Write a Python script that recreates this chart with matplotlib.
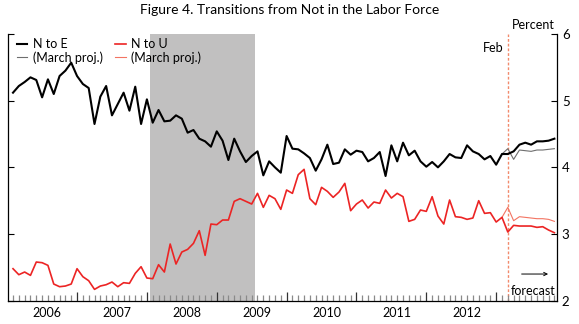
import matplotlib
matplotlib.use("Agg")
import matplotlib.pyplot as plt
import numpy as np
from matplotlib import transforms

# SETUP #########################################

plt.rcParams.update({
    "font.family": ["Lato", "DejaVu Sans"],
    "font.size": 9,
})

# DATA ##########################################

# monthly rates, Jan 2006 onward (last 8 months are the forecast)
n_to_e = [
    5.12, 5.22, 5.28, 5.35, 5.31, 5.05, 5.32, 5.10, 5.37, 5.45, 5.57, 5.37,
    5.25, 5.19, 4.65, 5.06, 5.22, 4.78, 4.95, 5.12, 4.85, 5.21, 4.65, 5.02,
    4.67, 4.86, 4.69, 4.70, 4.78, 4.73, 4.52, 4.56, 4.43, 4.39, 4.31, 4.54,
    4.40, 4.11, 4.43, 4.24, 4.08, 4.17, 4.24, 3.88, 4.09, 4.00, 3.92, 4.47,
    4.28, 4.27, 4.21, 4.14, 3.95, 4.12, 4.34, 4.05, 4.07, 4.27, 4.19, 4.25,
    4.23, 4.09, 4.14, 4.23, 3.87, 4.33, 4.09, 4.37, 4.18, 4.25, 4.09, 4.01,
    4.08, 4.00, 4.09, 4.20, 4.15, 4.14, 4.33, 4.24, 4.20, 4.12, 4.17, 4.04,
    4.20, 4.20, 4.24, 4.34, 4.37, 4.34, 4.39, 4.39, 4.40, 4.43,
]
n_to_u = [
    2.48, 2.39, 2.43, 2.38, 2.58, 2.57, 2.53, 2.25, 2.21, 2.22, 2.25, 2.48,
    2.36, 2.30, 2.17, 2.22, 2.24, 2.28, 2.21, 2.27, 2.26, 2.41, 2.51, 2.34,
    2.33, 2.54, 2.43, 2.85, 2.55, 2.73, 2.77, 2.86, 3.05, 2.68, 3.15, 3.14,
    3.21, 3.21, 3.49, 3.53, 3.49, 3.45, 3.61, 3.40, 3.58, 3.53, 3.37, 3.66,
    3.61, 3.89, 3.97, 3.53, 3.44, 3.70, 3.64, 3.55, 3.63, 3.76, 3.35, 3.45,
    3.51, 3.39, 3.48, 3.46, 3.66, 3.54, 3.61, 3.56, 3.19, 3.22, 3.36, 3.34,
    3.56, 3.27, 3.15, 3.51, 3.26, 3.25, 3.22, 3.24, 3.50, 3.31, 3.32, 3.18,
    3.25, 3.03, 3.13, 3.12, 3.12, 3.12, 3.10, 3.11, 3.06, 3.02,
]

# March projections, starting Jan 2013
proj_start = 84
n_to_e_march = [4.20, 4.28, 4.12, 4.26, 4.25, 4.24, 4.26, 4.26, 4.27, 4.28]
n_to_u_march = [3.25, 3.40, 3.20, 3.26, 3.25, 3.24, 3.23, 3.23, 3.22, 3.19]

years = ['2006', '2007', '2008', '2009', '2010', '2011', '2012']
last_obs = 85          # Feb 2013
recession = (23.5, 41.5)

month = np.arange(len(n_to_e))
month_proj = np.arange(proj_start, proj_start + len(n_to_e_march))

# FIGURE ########################################

fig = plt.figure(figsize=(5.79, 3.24), dpi=100)
ax = fig.add_axes([8/579, 1 - 300.7/324, 549/579, 266.7/324])

ax.set_xlim(-0.86, 93.45)
ax.set_ylim(2, 6)

# recession shading
ax.axvspan(recession[0], recession[1], color='#c1c0c0', lw=0, zorder=0)

# last observed month
ax.axvline(last_obs, color='#f28a6c', lw=1.0, linestyle=(0, (2.0, 1.4)), zorder=1)

# PLOTTING ###################

ax.plot(month_proj, n_to_e_march, color='#6e6e6e', lw=0.8, zorder=3,
        label='(March proj.)')
ax.plot(month_proj, n_to_u_march, color='#f37462', lw=0.8, zorder=3,
        label='(March proj.)')
ax.plot(month, n_to_e, color='black', lw=1.5, zorder=4, label='N to E')
ax.plot(month, n_to_u, color='#ec2424', lw=1.2, zorder=4, label='N to U')

# TICKS AND LABELS ###########

ax.spines['top'].set_visible(False)
for side in ['left', 'right', 'bottom']:
    ax.spines[side].set_linewidth(0.9)

ax.set_yticks([2, 3, 4, 5, 6])
ax.tick_params(axis='y', direction='in', left=True, right=True,
               labelleft=False, labelright=True, length=4.5, width=0.8,
               pad=3.5, labelsize=9.5)

ax.set_xticks(np.arange(11, 90, 12), labels=[''] * 7)
ax.set_xticks(month, minor=True)
ax.tick_params(axis='x', which='major', direction='in', length=6.5,
               width=0.9, color='#333333')
ax.tick_params(axis='x', which='minor', direction='in', length=4.5,
               width=0.9, color='#8a8a8a')

trans = transforms.blended_transform_factory(ax.transData, ax.transAxes)
for k, yr in enumerate(years):
    ax.text(5.9 + 12*k, -0.022, yr, transform=trans, ha='center', va='top',
            fontsize=9)

ax.text(0.996, 1.012, 'Percent', transform=ax.transAxes, ha='right',
        va='bottom', fontsize=9)
ax.text(last_obs - 0.8, 0.97, 'Feb', transform=trans, ha='right',
        va='top', fontsize=9)
ax.text(0.998, 0.015, 'forecast', transform=ax.transAxes, ha='right',
        va='bottom', fontsize=9)
ax.annotate('', xy=(92.4, 2.4), xytext=(86.9, 2.4),
            arrowprops=dict(arrowstyle='->', lw=0.7, color='black',
                            mutation_scale=6))

fig.text(0.5, 1 - 10/324, 'Figure 4. Transitions from Not in the Labor Force',
         ha='center', va='center', fontsize=10)

# LEGEND ####################

handles, labels = ax.get_legend_handles_labels()
order = [2, 0, 3, 1]
ax.legend([handles[i] for i in order], [labels[i] for i in order],
          ncol=2, loc='upper left', bbox_to_anchor=(0.016, 0.985),
          frameon=False, borderpad=0, borderaxespad=0, handlelength=0.85,
          handletextpad=0.45, columnspacing=0.95, labelspacing=0.1,
          fontsize=9)

# EXPORT #########################################

fig.savefig('out.png', dpi=100)
